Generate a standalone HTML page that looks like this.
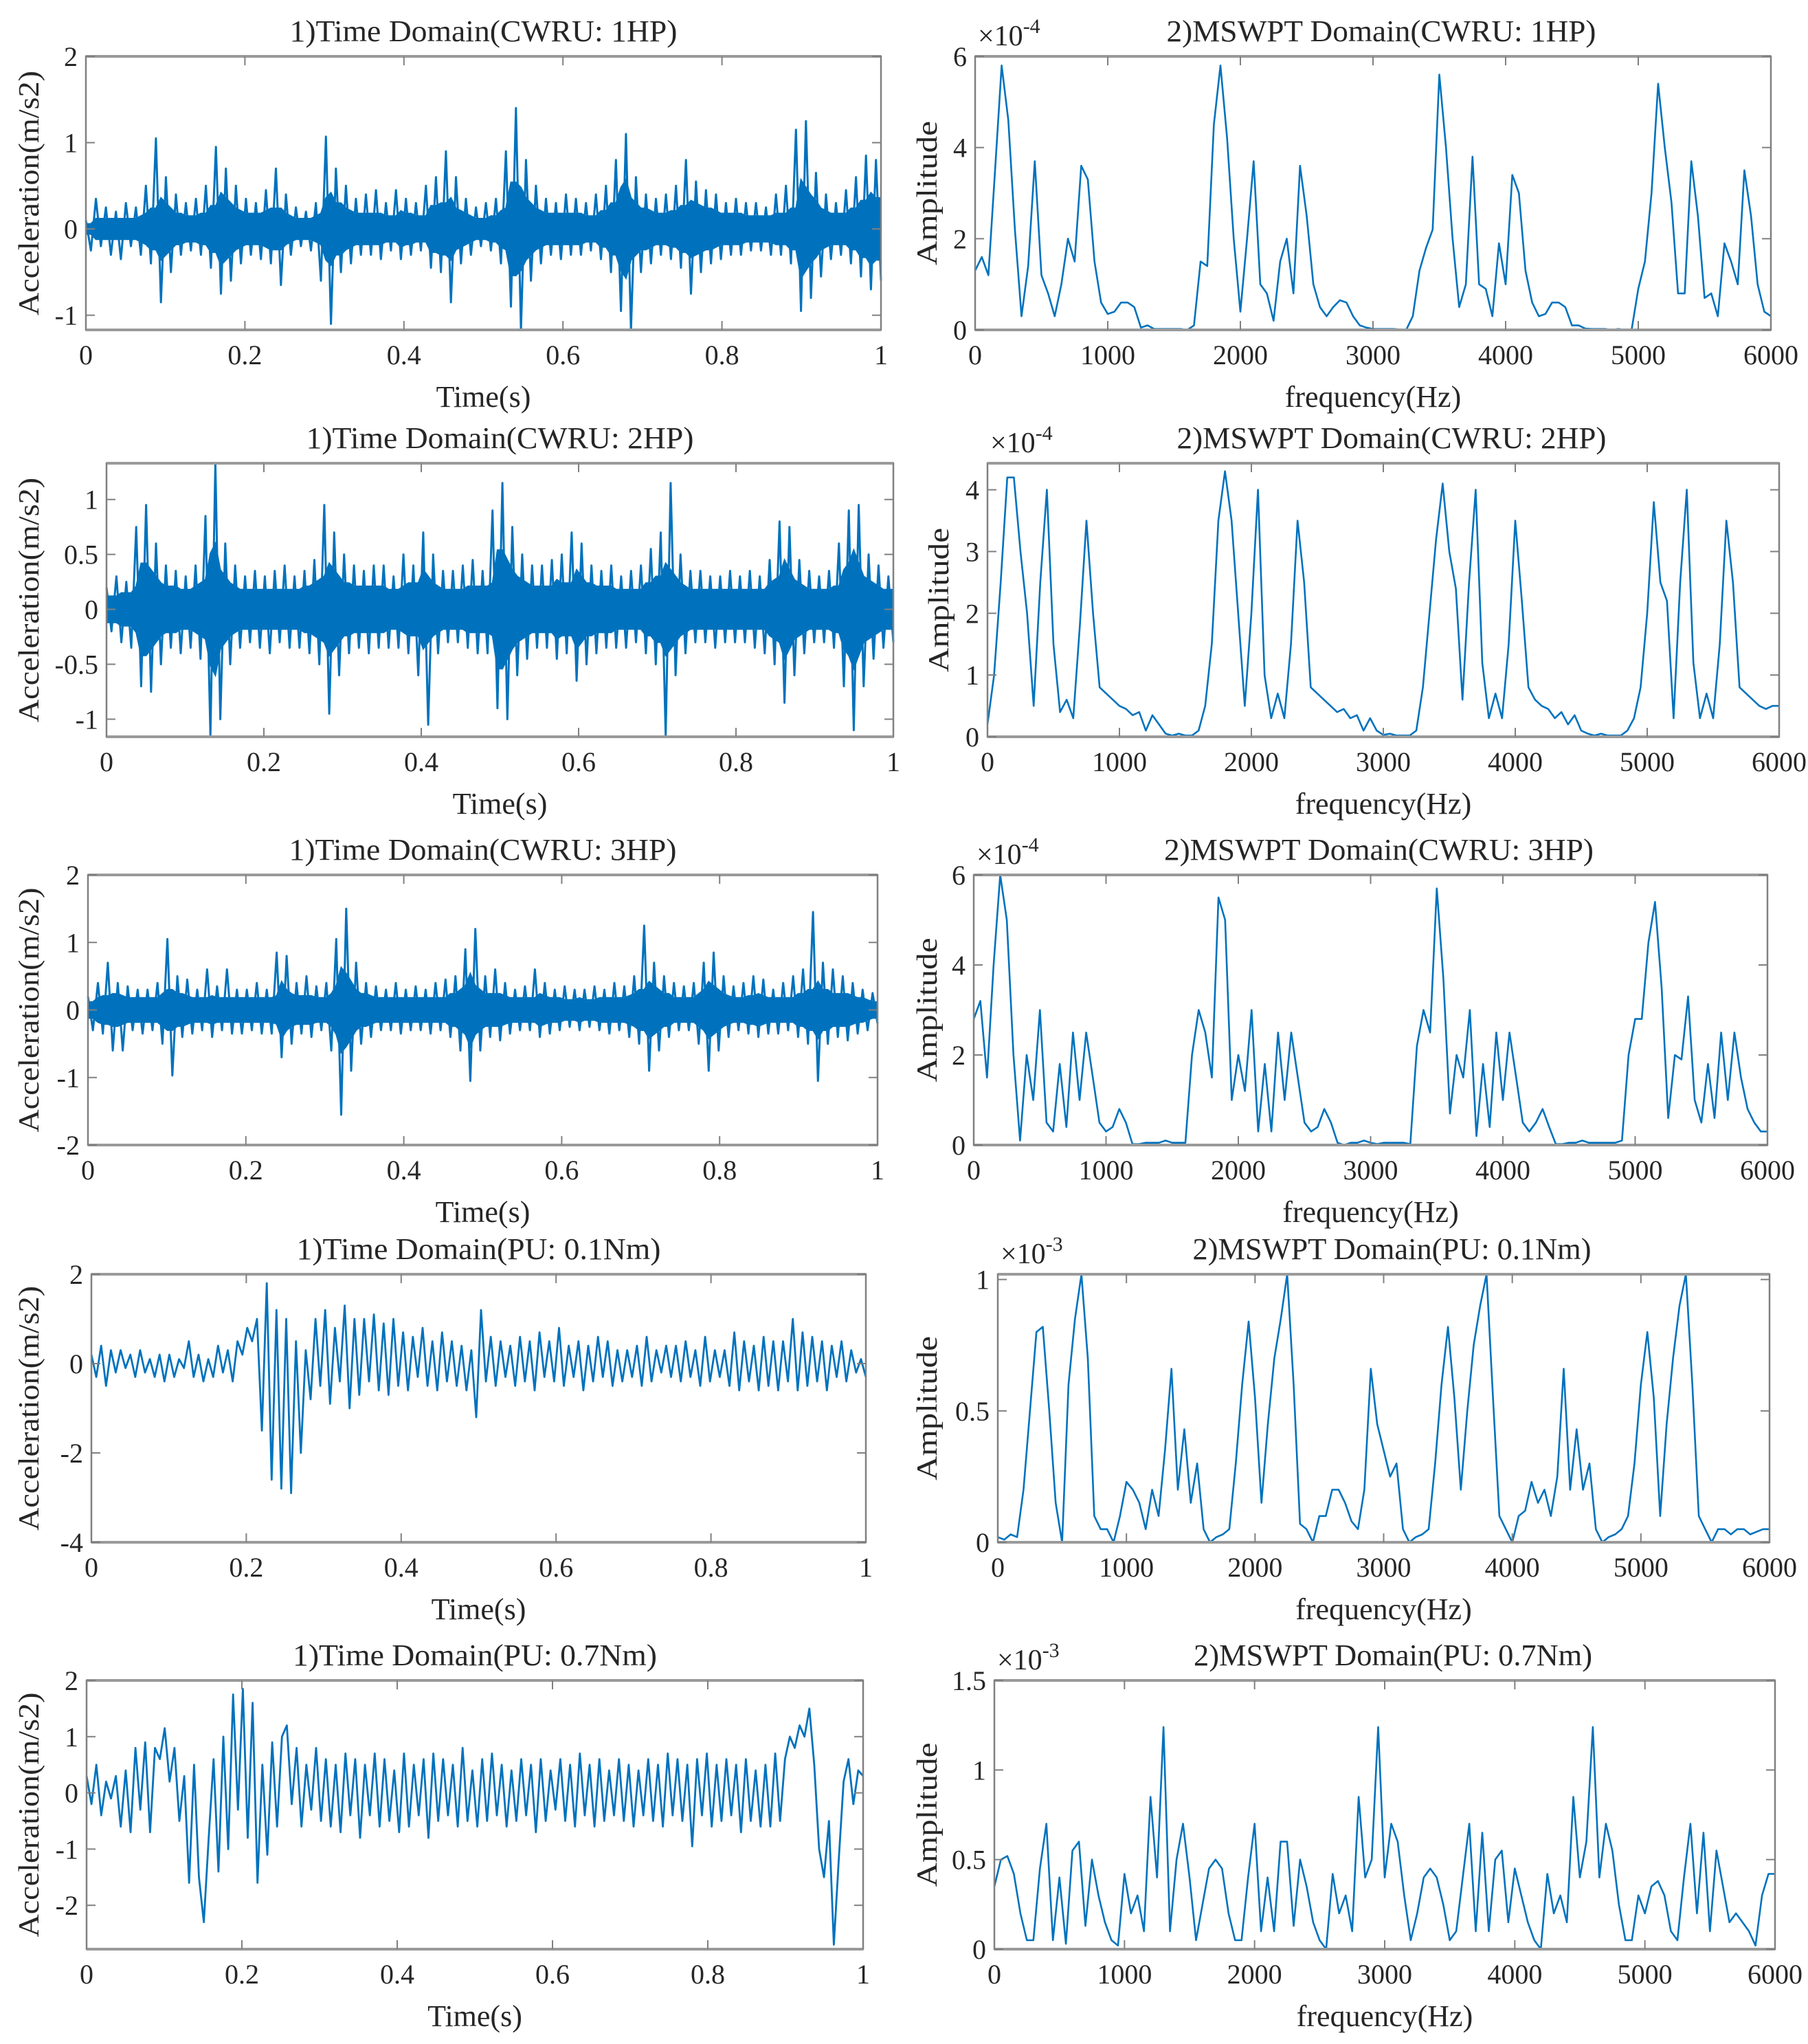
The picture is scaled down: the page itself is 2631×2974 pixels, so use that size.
<!DOCTYPE html>
<html><head><meta charset="utf-8"><style>
html,body{margin:0;padding:0;background:#fff;}
svg{display:block;}
text{font-family:"Liberation Serif",serif;fill:#262626;}
</style></head>
<body>
<svg id="fig" width="2631" height="2974" viewBox="0 0 2631 2974" xmlns="http://www.w3.org/2000/svg"></svg>
<script>
// ---------- DATA ----------
const timeTicks = [0, 0.2, 0.4, 0.6, 0.8, 1];
const timeTickLabels = ["0", "0.2", "0.4", "0.6", "0.8", "1"];
const freqTicks = [0, 1000, 2000, 3000, 4000, 5000, 6000];
const freqTickLabels = ["0", "1000", "2000", "3000", "4000", "5000", "6000"];

const sig1HP = [0.1,-0.25,0.35,-0.2,0.25,-0.3,0.2,-0.35,0.3,-0.2,0.25,-0.3,0.5,-0.4,1.05,-0.85,0.6,-0.5,0.4,-0.3,0.3,-0.25,0.35,-0.3,0.5,-0.45,0.95,-0.75,0.7,-0.6,0.5,-0.4,0.35,-0.3,0.3,-0.35,0.45,-0.4,0.7,-0.65,0.4,-0.3,0.25,-0.2,0.2,-0.25,0.3,-0.6,1.07,-1.1,0.7,-0.5,0.5,-0.4,0.35,-0.3,0.4,-0.3,0.45,-0.35,0.3,-0.25,0.45,-0.35,0.35,-0.3,0.3,-0.25,0.5,-0.45,0.6,-0.5,0.9,-0.85,0.6,-0.4,0.35,-0.3,0.25,-0.2,0.3,-0.25,0.35,-0.4,0.9,-0.9,1.4,-1.2,0.8,-0.6,0.5,-0.4,0.35,-0.3,0.3,-0.35,0.4,-0.3,0.35,-0.3,0.3,-0.25,0.4,-0.35,0.5,-0.5,0.8,-0.95,1.1,-1.2,0.6,-0.5,0.4,-0.4,0.35,-0.3,0.4,-0.35,0.5,-0.45,0.8,-0.75,0.55,-0.5,0.45,-0.4,0.4,-0.35,0.3,-0.3,0.35,-0.3,0.3,-0.25,0.3,-0.25,0.25,-0.3,0.4,-0.3,0.5,-0.4,1.15,-0.95,1.25,-0.8,0.65,-0.55,0.4,-0.35,0.3,-0.3,0.45,-0.4,0.6,-0.55,0.85,-0.7,0.8,-0.6];
const sig2HP = [0.2,-0.2,0.3,-0.3,0.25,-0.35,0.75,-0.7,0.95,-0.75,0.6,-0.5,0.4,-0.35,0.35,-0.4,0.3,-0.35,0.4,-0.45,0.85,-1.15,1.33,-1.0,0.6,-0.5,0.4,-0.35,0.3,-0.3,0.35,-0.35,0.3,-0.4,0.35,-0.3,0.4,-0.35,0.3,-0.35,0.35,-0.4,0.45,-0.5,0.95,-0.95,0.7,-0.6,0.5,-0.4,0.4,-0.35,0.35,-0.4,0.4,-0.35,0.4,-0.35,0.3,-0.35,0.5,-0.4,0.4,-0.6,0.7,-1.05,0.5,-0.4,0.35,-0.3,0.35,-0.3,0.4,-0.35,0.45,-0.4,0.35,-0.4,0.9,-0.9,1.15,-1.0,0.75,-0.6,0.5,-0.45,0.4,-0.35,0.4,-0.35,0.45,-0.45,0.5,-0.4,0.7,-0.65,0.6,-0.5,0.4,-0.4,0.35,-0.35,0.4,-0.35,0.3,-0.35,0.35,-0.3,0.4,-0.4,0.55,-0.5,0.7,-1.15,1.15,-0.6,0.5,-0.4,0.35,-0.3,0.35,-0.3,0.3,-0.35,0.3,-0.3,0.35,-0.3,0.3,-0.3,0.35,-0.35,0.3,-0.4,0.45,-0.5,0.8,-0.85,0.75,-0.6,0.45,-0.4,0.35,-0.3,0.3,-0.3,0.35,-0.35,0.6,-0.7,0.9,-1.1,0.95,-0.7,0.5,-0.45,0.4,-0.35,0.3,-0.3];
const sig3HP = [0.2,-0.3,0.4,-0.35,0.7,-0.6,0.4,-0.6,0.35,-0.3,0.3,-0.35,0.3,-0.3,0.4,-0.5,1.05,-0.97,0.5,-0.4,0.45,-0.35,0.3,-0.3,0.6,-0.4,0.35,-0.3,0.6,-0.35,0.3,-0.35,0.3,-0.3,0.4,-0.35,0.3,-0.35,0.85,-0.7,0.8,-0.5,0.4,-0.35,0.5,-0.4,0.35,-0.3,0.4,-0.6,1.05,-1.55,1.5,-0.9,0.7,-0.5,0.4,-0.4,0.35,-0.3,0.3,-0.3,0.4,-0.35,0.3,-0.3,0.35,-0.3,0.3,-0.35,0.4,-0.3,0.45,-0.4,0.5,-0.6,0.9,-1.05,1.2,-0.6,0.5,-0.4,0.6,-0.45,0.4,-0.35,0.3,-0.3,0.35,-0.3,0.6,-0.4,0.4,-0.35,0.3,-0.3,0.35,-0.25,0.3,-0.3,0.3,-0.25,0.35,-0.3,0.3,-0.35,0.4,-0.3,0.35,-0.4,0.5,-0.5,1.25,-0.9,0.7,-0.6,0.5,-0.4,0.4,-0.3,0.35,-0.3,0.4,-0.5,0.7,-0.9,0.85,-0.6,0.5,-0.4,0.35,-0.3,0.4,-0.35,0.5,-0.4,0.45,-0.35,0.3,-0.35,0.4,-0.3,0.5,-0.4,0.6,-0.5,1.45,-1.05,0.7,-0.5,0.6,-0.4,0.5,-0.45,0.4,-0.35,0.3,-0.3,0.25,-0.2];
const sigPU01 = [0.2,-0.3,0.4,-0.5,0.3,-0.2,0.3,-0.1,0.2,-0.3,0.3,-0.2,0.1,-0.3,0.2,-0.4,0.2,-0.3,0.1,-0.1,0.5,-0.3,0.2,-0.4,0.1,-0.3,0.4,-0.2,0.3,-0.4,0.5,0.2,0.8,0.5,1.0,-1.5,1.8,-2.6,1.2,-2.8,1.0,-2.9,0.5,-2.0,0.3,-0.8,1.0,-0.5,1.2,-0.9,0.8,-0.4,1.3,-1.0,1.0,-0.7,1.0,-0.4,1.1,-0.6,0.9,-0.7,1.0,-0.5,0.7,-0.6,0.6,-0.3,0.8,-0.5,0.5,-0.6,0.7,-0.4,0.5,-0.5,0.4,-0.6,0.3,-1.2,1.2,-0.4,0.6,-0.5,0.5,-0.3,0.4,-0.5,0.6,-0.4,0.5,-0.6,0.7,-0.3,0.5,-0.4,0.8,-0.5,0.4,-0.3,0.5,-0.6,0.4,-0.4,0.6,-0.3,0.5,-0.5,0.3,-0.4,0.3,-0.3,0.4,-0.5,0.6,-0.4,0.3,-0.2,0.4,-0.3,0.4,-0.4,0.5,-0.3,0.3,-0.5,0.6,-0.4,0.3,-0.3,0.3,-0.5,0.7,-0.6,0.5,-0.4,0.4,-0.6,0.6,-0.5,0.5,-0.6,0.5,-0.4,1.0,-0.6,0.7,-0.5,0.6,-0.4,0.5,-0.6,0.4,-0.3,0.5,-0.4,0.3,-0.2,0.1,-0.3];
const sigPU07 = [0.3,-0.2,0.5,-0.4,0.2,-0.1,0.3,-0.6,0.4,-0.7,0.8,-0.3,0.9,-0.7,0.8,0.6,1.15,0.2,0.8,-0.5,0.3,-1.6,0.5,-1.5,-2.3,-0.8,0.6,-1.4,1.0,-1.0,1.75,-0.3,1.85,-0.8,1.6,-1.6,0.5,-1.1,0.9,-0.6,1.0,1.2,-0.2,0.8,-0.6,0.5,-0.3,0.8,-0.5,0.6,-0.6,0.5,-0.7,0.7,-0.4,0.6,-0.8,0.5,-0.4,0.7,-0.6,0.6,-0.5,0.4,-0.7,0.7,-0.6,0.5,-0.4,0.6,-0.8,0.7,-0.5,0.6,-0.4,0.5,-0.6,0.8,-0.5,0.4,-0.6,0.6,-0.5,0.7,-0.4,0.5,-0.6,0.4,-0.5,0.6,-0.4,0.5,-0.7,0.6,-0.5,0.4,-0.3,0.6,-0.5,0.5,-0.6,0.7,-0.4,0.5,-0.6,0.6,-0.5,0.4,-0.4,0.6,-0.5,0.5,-0.6,0.4,-0.4,0.6,-0.5,0.5,-0.6,0.7,-0.4,0.6,-0.5,0.5,-0.95,0.6,-0.4,0.7,-0.6,0.5,-0.5,0.6,-0.4,0.5,-0.7,0.6,-0.5,0.4,-0.6,0.5,-0.6,0.7,-0.5,0.6,1.0,0.8,1.2,1.0,1.5,0.5,-1.0,-1.5,-0.5,-2.7,-1.2,0.2,0.6,-0.2,0.4,0.3];

const spec1HP = [1.3,1.6,1.2,3.5,5.8,4.6,2.2,0.3,1.4,3.7,1.2,0.8,0.3,1.0,2.0,1.5,3.6,3.3,1.5,0.6,0.35,0.4,0.6,0.6,0.5,0.05,0.1,0.02,0.02,0.02,0.02,0.02,0,0.1,1.5,1.4,4.5,5.8,4.2,2.0,0.4,2.0,3.7,1.0,0.8,0.2,1.5,2.0,0.8,3.6,2.5,1.0,0.5,0.3,0.5,0.65,0.6,0.3,0.1,0.05,0.02,0.02,0.02,0.02,0.01,0,0.3,1.3,1.8,2.2,5.6,4.0,2.0,0.5,1.0,3.8,1.0,0.9,0.3,1.9,1.0,3.4,3.0,1.3,0.6,0.3,0.35,0.6,0.6,0.5,0.1,0.1,0.03,0.02,0.02,0.02,0,0.02,0,0,0.9,1.5,3.0,5.4,4.0,2.8,0.8,0.8,3.7,2.5,0.7,0.8,0.3,1.9,1.5,1.0,3.5,2.5,1.0,0.4,0.3];
const spec2HP = [0.2,1.0,2.5,4.2,4.2,3.0,2.0,0.5,2.5,4.0,1.5,0.4,0.6,0.3,1.8,3.5,2.0,0.8,0.7,0.6,0.5,0.45,0.35,0.4,0.1,0.35,0.2,0.05,0.02,0.05,0.02,0.02,0.1,0.5,1.5,3.5,4.3,3.5,2.0,0.5,2.0,4.0,1.0,0.3,0.7,0.3,1.5,3.5,2.5,0.8,0.7,0.6,0.5,0.4,0.45,0.3,0.35,0.1,0.3,0.1,0.03,0.05,0.02,0.02,0.02,0.1,0.8,2.0,3.2,4.1,3.0,2.4,0.6,2.5,4.0,1.2,0.3,0.7,0.3,1.5,3.5,2.2,0.8,0.6,0.5,0.45,0.3,0.4,0.2,0.35,0.1,0.05,0.02,0.05,0.02,0.02,0.02,0.1,0.3,0.8,2.0,3.8,2.5,2.2,0.3,2.5,4.0,1.2,0.3,0.7,0.3,1.5,3.5,2.5,0.8,0.7,0.6,0.5,0.45,0.5,0.5];
const spec3HP = [2.8,3.2,1.5,4.0,6.0,5.0,2.0,0.1,2.0,1.0,3.0,0.5,0.3,1.8,0.4,2.5,1.0,2.5,1.5,0.5,0.3,0.4,0.8,0.5,0.02,0.02,0.05,0.05,0.05,0.1,0.05,0.05,0.05,2.0,3.0,2.5,1.5,5.5,5.0,1.0,2.0,1.2,3.0,0.3,1.8,0.3,2.5,1.0,2.5,1.5,0.5,0.3,0.4,0.8,0.5,0.05,0,0.05,0.05,0.1,0.05,0.02,0.05,0.05,0.05,0.05,0.02,2.2,3.0,2.5,5.7,3.7,0.7,2.0,1.5,3.0,0.2,1.8,0.4,2.5,1.0,2.5,1.5,0.5,0.3,0.5,0.8,0.4,0.02,0.02,0.05,0.05,0.1,0.05,0.05,0.05,0.05,0.05,0.1,2.0,2.8,2.8,4.5,5.4,3.5,0.6,2.0,1.9,3.3,1.0,0.5,1.8,0.6,2.5,1.0,2.5,1.5,0.8,0.5,0.3,0.3];
const specPU01 = [0.02,0.01,0.03,0.02,0.2,0.5,0.8,0.82,0.5,0.15,0.0,0.6,0.85,1.02,0.7,0.1,0.05,0.05,0.0,0.1,0.23,0.2,0.15,0.05,0.2,0.1,0.35,0.66,0.2,0.43,0.15,0.3,0.05,0.0,0.02,0.03,0.05,0.3,0.6,0.84,0.55,0.15,0.45,0.7,0.85,1.02,0.6,0.07,0.05,0.0,0.1,0.1,0.2,0.2,0.15,0.08,0.05,0.2,0.66,0.45,0.35,0.25,0.3,0.05,0.0,0.02,0.03,0.05,0.3,0.6,0.82,0.55,0.2,0.5,0.75,0.9,1.02,0.55,0.1,0.05,0.0,0.1,0.12,0.23,0.15,0.2,0.1,0.25,0.66,0.2,0.43,0.2,0.3,0.05,0.0,0.02,0.03,0.05,0.1,0.3,0.6,0.8,0.55,0.1,0.45,0.7,0.9,1.02,0.6,0.1,0.05,0.0,0.05,0.05,0.03,0.05,0.05,0.03,0.04,0.05,0.05];
const specPU07 = [0.35,0.5,0.52,0.42,0.2,0.05,0.05,0.45,0.7,0.05,0.4,0.03,0.55,0.6,0.13,0.5,0.3,0.15,0.05,0.02,0.42,0.2,0.3,0.1,0.85,0.4,1.24,0.1,0.5,0.7,0.4,0.05,0.25,0.45,0.5,0.45,0.2,0.05,0.05,0.4,0.7,0.1,0.4,0.1,0.6,0.6,0.13,0.5,0.35,0.15,0.05,0.0,0.42,0.2,0.3,0.1,0.85,0.4,0.5,1.24,0.4,0.7,0.6,0.3,0.05,0.2,0.4,0.45,0.4,0.25,0.05,0.1,0.4,0.7,0.1,0.65,0.1,0.5,0.55,0.15,0.45,0.3,0.15,0.05,0.0,0.42,0.2,0.3,0.15,0.85,0.4,0.6,1.24,0.4,0.7,0.55,0.25,0.05,0.05,0.3,0.2,0.35,0.38,0.3,0.1,0.05,0.4,0.7,0.2,0.65,0.1,0.55,0.35,0.15,0.2,0.15,0.1,0.02,0.3,0.42,0.42];

const yt1L = [-1,0,1,2], yt1R = [0,2,4,6];
const yt2L = [-1,-0.5,0,0.5,1], yt2R = [0,1,2,3,4];
const yt3L = [-2,-1,0,1,2], yt3R = [0,2,4,6];
const yt4L = [-4,-2,0,2], yt4R = [0,0.5,1];
const yt5L = [-2,-1,0,1,2], yt5R = [0,0.5,1,1.5];

// ---------- DRAW ----------
const NS = "http://www.w3.org/2000/svg";
const svg = document.getElementById("fig");
function mk(tag, attrs, parent){
  const e = document.createElementNS(NS, tag);
  for (const k in attrs) e.setAttribute(k, attrs[k]);
  (parent||svg).appendChild(e);
  return e;
}
function fmt(v){ return v < 0 ? "-" + String(-v) : String(v); }

function panel(cfg){
  const g = mk("g", {});
  
  
  const {L,R,T,B,ymin,ymax,xmin,xmax} = cfg;
  const sx = v => L + (v - xmin) / (xmax - xmin) * (R - L);
  const sy = v => B - (v - ymin) / (ymax - ymin) * (B - T);
  const clip = v => Math.max(ymin, Math.min(ymax, v));
  const n = cfg.data.length;
  const xs = i => sx(xmin + i * (xmax - xmin) / (n - 1));
  if (cfg.band){
    let up = "", lo = "";
    const a = [];
    for (let i = 0; i < n; i++){
      const p = Math.abs(cfg.data[Math.max(0, i-1)]), c = Math.abs(cfg.data[i]), q = Math.abs(cfg.data[Math.min(n-1, i+1)]);
      a.push(cfg.band * Math.min(p, c, q));
    }
    for (let i = 0; i < n; i++) up += (i ? "L" : "M") + xs(i).toFixed(1) + " " + sy(clip(a[i])).toFixed(1);
    for (let i = n - 1; i >= 0; i--) lo += "L" + xs(i).toFixed(1) + " " + sy(clip(-a[i])).toFixed(1);
    const band = mk("path", {d: up + lo + "Z", fill: "#0072BD", stroke: "#0072BD", "stroke-width": 2}, g);
    
    
  }
  let d = "";
  for (let i = 0; i < n; i++){
    d += (i ? "L" : "M") + xs(i).toFixed(1) + " " + sy(clip(cfg.data[i])).toFixed(1);
  }
  const line = mk("path", {d: d, fill: "none", stroke: "#0072BD", "stroke-width": cfg.sw, "stroke-linejoin": "round"}, g);
  
  
  const box = mk("rect", {x: L, y: T, width: R - L, height: B - T, fill: "none", stroke: "#808080", "stroke-width": 2.5}, g);
  
  
  mk("line", {x1: L, y1: T, x2: R, y2: T, stroke: "#9a9a9a", "stroke-width": 4}, g);
  mk("line", {x1: L, y1: B, x2: R, y2: B, stroke: "#9a9a9a", "stroke-width": 4}, g);
  cfg.xt.forEach((v, i) => {
    const x = sx(v);
    mk("line", {x1: x, y1: B, x2: x, y2: B - 13, stroke: "#808080", "stroke-width": 2}, g);
    mk("line", {x1: x, y1: T, x2: x, y2: T + 13, stroke: "#808080", "stroke-width": 2}, g);
    const t = mk("text", {x: x, y: B + 50, "font-size": 40, "text-anchor": "middle"}, g);
    
    
    t.textContent = cfg.xtl[i];
  });
  cfg.yt.forEach(v => {
    const y = sy(v);
    mk("line", {x1: L, y1: y, x2: L + 13, y2: y, stroke: "#808080", "stroke-width": 2}, g);
    mk("line", {x1: R, y1: y, x2: R - 13, y2: y, stroke: "#808080", "stroke-width": 2}, g);
    const t = mk("text", {x: L - 12, y: y + 14, "font-size": 40, "text-anchor": "end"}, g);
    
    
    t.textContent = fmt(v);
  });
  const tt = mk("text", {x: cfg.tx, y: T - 22, "font-size": 44, "text-anchor": "middle", textLength: cfg.tlen, lengthAdjust: "spacingAndGlyphs"}, g);
  
  
  tt.textContent = cfg.title;
  const xl = mk("text", {x: (L + R) / 2, y: B + 112, "font-size": 44, "text-anchor": "middle"}, g);
  
  
  xl.textContent = cfg.xlabel;
  const cy = (T + B) / 2;
  const yl = mk("text", {x: cfg.ylx, y: cy, "font-size": 42, "text-anchor": "middle", transform: "rotate(-90 " + cfg.ylx + " " + cy + ")", textLength: cfg.ylen, lengthAdjust: "spacingAndGlyphs", dy: 14}, g);
  
  
  yl.textContent = cfg.ylabel;
  if (cfg.mult){
    const m = mk("text", {x: L + 4, y: T - 16, "font-size": 42}, g);
    
    
    m.textContent = "\u00d710";
    const ms = mk("tspan", {dy: -18, "font-size": 30}, m);
    ms.textContent = cfg.mult;
  }
}

const rows = [
  {T:82,  B:480,  L1:125, R1:1282, L2:1419, R2:2577, ylR:1349, tag:"CWRU: 1HP", tData:sig1HP, sData:spec1HP, ytL:yt1L, ytR:yt1R, yL:[-1.17,2], yR:[0,6], mult:"-4"},
  {T:674, B:1072, L1:155, R1:1300, L2:1437, R2:2589, ylR:1366, tag:"CWRU: 2HP", tData:sig2HP, sData:spec2HP, ytL:yt2L, ytR:yt2R, yL:[-1.16,1.33], yR:[0,4.43], mult:"-4"},
  {T:1273,B:1666, L1:128, R1:1277, L2:1417, R2:2572, ylR:1349, tag:"CWRU: 3HP", tData:sig3HP, sData:spec3HP, ytL:yt3L, ytR:yt3R, yL:[-2,2], yR:[0,6], mult:"-4"},
  {T:1854,B:2244, L1:133, R1:1260, L2:1452, R2:2575, ylR:1349, tag:"PU: 0.1Nm", tData:sigPU01, sData:specPU01, ytL:yt4L, ytR:yt4R, yL:[-4,2], yR:[0,1.02], mult:"-3"},
  {T:2445,B:2836, L1:126, R1:1256, L2:1447, R2:2583, ylR:1349, tag:"PU: 0.7Nm", tData:sigPU07, sData:specPU07, ytL:yt5L, ytR:yt5R, yL:[-2.78,2], yR:[0,1.5], mult:"-3"}
];

rows.forEach((r, k) => {
  panel({name: "time-domain-panel-" + (k+1), L:r.L1, R:r.R1, T:r.T, B:r.B, xmin:0, xmax:1, ymin:r.yL[0], ymax:r.yL[1],
    data:r.tData, sw: k < 3 ? 3 : 2.8, band: k < 3 ? 0.6 : 0, xt:timeTicks, xtl:timeTickLabels, yt:r.ytL,
    title:"1)Time Domain(" + r.tag + ")", tx:(r.L1 + r.R1) / 2, tlen: k < 3 ? 564 : 530,
    xlabel:"Time(s)", ylabel:"Acceleration(m/s2)", ylx: 42, ylen: 356});
  panel({name: "mswpt-domain-panel-" + (k+1), L:r.L2, R:r.R2, T:r.T, B:r.B, xmin:0, xmax:6000, ymin:r.yR[0], ymax:r.yR[1],
    data:r.sData, sw:2.6, band:0, xt:freqTicks, xtl:freqTickLabels, yt:r.ytR,
    title:"2)MSWPT Domain(" + r.tag + ")", tx:(r.L2 + r.R2) / 2 + 12, tlen: k < 3 ? 625 : 580,
    xlabel:"frequency(Hz)", ylabel:"Amplitude", ylx: r.ylR, ylen: 210, mult:r.mult});
});
</script>
</body></html>
